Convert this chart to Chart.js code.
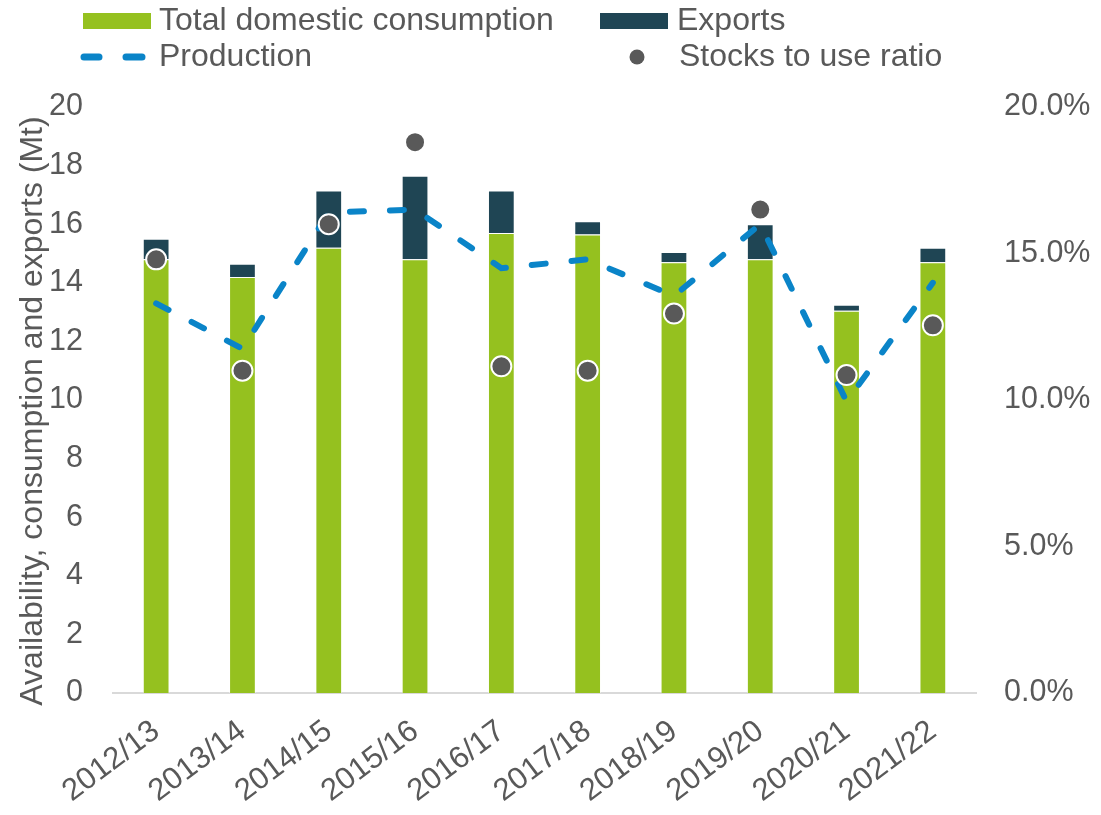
<!DOCTYPE html>
<html>
<head>
<meta charset="utf-8">
<script src="https://cdn.jsdelivr.net/npm/chart.js@4.4.0/dist/chart.umd.min.js"></script>
<style>
  body { margin: 0; background: #fff; }
  #wrap { width: 1101px; height: 815px; }
</style>
</head>
<body>
<div id="wrap"><canvas id="chart" width="1101" height="815"></canvas></div>
<script>
// marketing years
var seasons = ['2012/13', '2013/14', '2014/15', '2015/16', '2016/17', '2017/18', '2018/19', '2019/20', '2020/21', '2021/22'];
// Mt
var consumption = [14.8, 14.2, 15.2, 14.8, 15.7, 15.65, 14.7, 14.8, 13.05, 14.7];
var exports = [0.7, 0.45, 1.95, 2.85, 1.45, 0.45, 0.35, 1.2, 0.2, 0.5];
var production = [13.3, 11.75, 16.4, 16.5, 14.5, 14.8, 13.55, 16.0, 9.95, 14.0];
// ratio (right axis)
var stocksToUse = [0.148, 0.110, 0.160, 0.188, 0.1115, 0.110, 0.1295, 0.165, 0.1085, 0.1255];

var leftTicks = [0, 2, 4, 6, 8, 10, 12, 14, 16, 18, 20];
var rightTicks = [0, 0.05, 0.10, 0.15, 0.20];
var leftTitle = 'Availability, consumption and exports (Mt)';

var GREEN = '#95c11f';
var TEAL = '#1f4554';
var BLUE = '#0a84c8';
var GREY = '#595959';
var FONT = "'Liberation Sans', Arial, sans-serif";

// two-row legend and the left axis title, drawn straight onto the canvas
var gridLegend = {
    id: 'gridLegend',
    afterDraw: function(chart) {
        var ctx = chart.ctx;
        var ds = chart.data.datasets;
        ctx.save();
        ctx.font = '32px ' + FONT;
        ctx.textBaseline = 'alphabetic';

        ctx.fillStyle = ds[0].backgroundColor;
        ctx.fillRect(83, 13, 68, 16);
        ctx.fillStyle = GREY;
        ctx.fillText(ds[0].label, 159, 30);

        ctx.fillStyle = ds[1].backgroundColor;
        ctx.fillRect(600, 13, 68, 16);
        ctx.fillStyle = GREY;
        ctx.fillText(ds[1].label, 677, 30);

        ctx.strokeStyle = ds[2].borderColor;
        ctx.lineWidth = 7;
        ctx.lineCap = 'round';
        ctx.beginPath();
        ctx.moveTo(84, 57); ctx.lineTo(99, 57);
        ctx.moveTo(126, 57); ctx.lineTo(142, 57);
        ctx.stroke();
        ctx.fillStyle = GREY;
        ctx.fillText(ds[2].label, 159, 66);

        ctx.fillStyle = ds[3].backgroundColor;
        ctx.beginPath();
        ctx.arc(637, 57, 7.5, 0, Math.PI * 2);
        ctx.fill();
        ctx.fillStyle = GREY;
        ctx.fillText(ds[3].label, 679, 66);

        // axis title
        ctx.translate(42, 411);
        ctx.rotate(-Math.PI / 2);
        ctx.textAlign = 'center';
        ctx.fillText(leftTitle, 0, 0);
        ctx.restore();
    }
};

var ctx = document.getElementById('chart');
var myChart = new Chart(ctx, {
    type: 'bar',
    data: {
        labels: seasons,
        datasets: [{
            label: 'Total domestic consumption',
            data: consumption,
            backgroundColor: GREEN,
            borderColor: 'rgba(255,255,255,0.5)',
            borderWidth: 1,
            stack: 'a',
            yAxisID: 'y',
            order: 3
        },
        {
            label: 'Exports',
            data: exports,
            backgroundColor: TEAL,
            borderColor: 'rgba(255,255,255,0.4)',
            borderWidth: 1,
            stack: 'a',
            yAxisID: 'y',
            order: 3
        },
        {
            type: 'line',
            label: 'Production',
            data: production,
            borderColor: BLUE,
            backgroundColor: BLUE,
            borderWidth: 6,
            borderDash: [14, 26],
            borderCapStyle: 'round',
            tension: 0,
            pointRadius: 0,
            fill: false,
            stack: 'p',
            yAxisID: 'y',
            order: 2
        },
        {
            type: 'line',
            label: 'Stocks to use ratio',
            data: stocksToUse,
            showLine: false,
            backgroundColor: GREY,
            borderColor: '#ffffff',
            pointBackgroundColor: GREY,
            pointBorderColor: '#ffffff',
            pointBorderWidth: 2,
            pointRadius: 10,
            yAxisID: 'y2',
            order: 1
        }]
    },
    options: {
        responsive: false,
        animation: false,
        categoryPercentage: 1,
        barPercentage: 0.31,
        layout: { padding: { top: 107, bottom: 0, left: 0, right: 0 } },
        plugins: {
            legend: { display: false },
            tooltip: { enabled: false }
        },
        scales: {
            x: {
                stacked: true,
                grid: { display: false, drawTicks: false },
                border: { color: '#d9d9d9', width: 2 },
                ticks: {
                    color: GREY,
                    font: { family: FONT, size: 31 },
                    minRotation: 37,
                    maxRotation: 37,
                    padding: 20
                },
                afterFit: function(scale) { scale.height = 122; }
            },
            y: {
                stacked: true,
                min: 0,
                max: 20,
                afterBuildTicks: function(scale) {
                    scale.ticks = leftTicks.map(function(v) { return { value: v }; });
                },
                grid: { display: false, drawTicks: false },
                border: { display: false },
                ticks: {
                    color: GREY,
                    font: { family: FONT, size: 30.5 },
                    padding: 30
                },
                afterFit: function(scale) { scale.width = 113; }
            },
            y2: {
                position: 'right',
                min: 0,
                max: 0.2,
                afterBuildTicks: function(scale) {
                    scale.ticks = rightTicks.map(function(v) { return { value: v }; });
                },
                grid: { display: false, drawTicks: false },
                border: { display: false },
                ticks: {
                    color: GREY,
                    font: { family: FONT, size: 30.5 },
                    padding: 28,
                    callback: function(v) { return (v * 100).toFixed(1) + '%'; }
                },
                afterFit: function(scale) { scale.width = 125; }
            }
        }
    },
    plugins: [gridLegend]
});
</script>
</body>
</html>
